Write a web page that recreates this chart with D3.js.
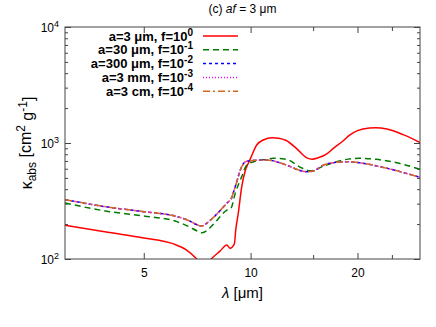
<!DOCTYPE html>
<html>
<head>
<meta charset="utf-8">
<script src="https://cdn.jsdelivr.net/npm/d3@7"></script>
<style>
  body { margin: 0; background: #fff; }
  text { font-family: "Liberation Sans", Arial, sans-serif; fill: #000; }
</style>
</head>
<body>
<svg width="436" height="327"></svg>
<script>
// wavelengths (um) and opacities
const wlRed = [3.0, 4.0, 5.0, 6.06, 6.59, 7.05, 7.3, 7.55, 7.75, 8.2, 8.57, 8.75, 9.0, 9.08, 9.23, 9.44, 9.67, 9.9, 10.0, 10.4, 10.85, 11.5, 12.0, 12.6, 13.5, 14.4, 14.9, 15.5, 16.35, 17.1, 18.2, 19.0, 20.0, 21.6, 22.5, 24.2, 26.9, 30.0];
const kRed  = [195, 169, 152, 135, 120, 100, 88, 90, 100, 117, 132, 124, 135, 178, 248, 420, 585, 690, 740, 961, 1061, 1110, 1100, 1050, 890, 745, 725, 745, 800, 900, 1040, 1170, 1280, 1350, 1356, 1320, 1180, 1010];

const wlGreen = [3.0, 4.0, 5.0, 6.2, 6.7, 7.05, 7.3, 7.6, 7.9, 8.57, 8.8, 9.05, 9.44, 9.75, 10.2, 11.1, 11.6, 12.6, 14.0, 14.7, 16.35, 18.2, 20.2, 22.6, 26.2, 30.0];
const kGreen  = [304, 256, 235, 210, 190, 175, 168, 180, 203, 264, 274, 368, 513, 646, 690, 723, 738, 723, 605, 577, 646, 713, 738, 723, 668, 593];

const wlSmall = [3.0, 4.0, 5.0, 6.2, 6.7, 7.05, 7.25, 7.55, 7.9, 8.66, 8.8, 9.05, 9.44, 9.67, 10.0, 11.1, 12.1, 12.6, 14.4, 14.9, 16.35, 18.7, 20.2, 24.2, 30.0];
const kBlue    = [325, 279, 256, 232, 214, 198, 192, 205, 232, 312, 327, 420, 625, 690, 703, 713, 676, 646, 566, 570, 659, 690, 676, 605, 506];
const kMagenta = [325, 279, 256, 232, 214, 198, 192, 205, 232, 312, 327, 420, 625, 690, 703, 713, 676, 646, 566, 570, 659, 690, 676, 605, 506];
const kBrown   = [325, 279, 256, 232, 214, 198, 192, 205, 232, 312, 327, 420, 625, 690, 703, 713, 676, 646, 566, 570, 659, 690, 676, 605, 506];

const legendA = ['a=3 \u03bcm, f=10', 'a=30 \u03bcm, f=10', 'a=300 \u03bcm, f=10', 'a=3 mm, f=10', 'a=3 cm, f=10'];
const legendExp = ['0', '-1', '-2', '-3', '-4'];

const xTicks = [5, 10, 20];
const xMinor = [15, 25];
const yTicks = [100, 1000, 10000];
const yMinor = [200, 300, 400, 500, 600, 700, 800, 900, 2000, 3000, 4000, 5000, 6000, 7000, 8000, 9000];

const svg = d3.select('svg');
const width = +svg.attr('width');
const height = +svg.attr('height');
const margin = { top: 27, right: 16, bottom: 68, left: 65 };
const innerWidth = width - margin.left - margin.right;
const innerHeight = height - margin.top - margin.bottom;

const xScale = d3.scaleLog().domain([3, 30]).range([0, innerWidth]);
const yScale = d3.scaleLog().domain([100, 10000]).range([innerHeight, 0]);

const g = svg.append('g').attr('transform', `translate(${margin.left}, ${margin.top})`);

svg.append('defs').append('clipPath').attr('id', 'clip')
    .append('rect').attr('width', innerWidth).attr('height', innerHeight);

// axes: ticks point inward, mirrored on top/right
const axisColor = '#444';
const styleAxis = (sel) => {
    sel.select('.domain').remove();
    sel.selectAll('.tick line').attr('stroke', axisColor);
    sel.selectAll('.tick text').style('font-size', '12px').style('font-family', '"Liberation Sans", Arial, sans-serif');
};

g.append('g').attr('transform', `translate(0, ${innerHeight})`)
    .call(d3.axisBottom(xScale).tickValues(xTicks).tickSize(-6).tickPadding(9).tickFormat(d3.format('d')))
    .call(styleAxis);
g.append('g').attr('transform', `translate(0, ${innerHeight})`)
    .call(d3.axisBottom(xScale).tickValues(xMinor).tickSize(-4).tickFormat(''))
    .call(styleAxis);
g.append('g')
    .call(d3.axisTop(xScale).tickValues(xTicks).tickSize(-6).tickFormat(''))
    .call(styleAxis);
g.append('g')
    .call(d3.axisTop(xScale).tickValues(xMinor).tickSize(-4).tickFormat(''))
    .call(styleAxis);

const yAxisG = g.append('g')
    .call(d3.axisLeft(yScale).tickValues(yTicks).tickSize(-6).tickPadding(6).tickFormat(() => ''))
    .call(styleAxis);
yAxisG.selectAll('.tick text').each(function (d) {
    const t = d3.select(this);
    t.attr('dy', '0.35em');
    t.append('tspan').text('10');
    t.append('tspan').attr('dy', '-0.5em').style('font-size', '9px').text(Math.round(Math.log10(d)));
});
g.append('g')
    .call(d3.axisLeft(yScale).tickValues(yMinor).tickSize(-3).tickFormat(''))
    .call(styleAxis);
g.append('g').attr('transform', `translate(${innerWidth}, 0)`)
    .call(d3.axisRight(yScale).tickValues(yTicks).tickSize(-6).tickFormat(''))
    .call(styleAxis);
g.append('g').attr('transform', `translate(${innerWidth}, 0)`)
    .call(d3.axisRight(yScale).tickValues(yMinor).tickSize(-3).tickFormat(''))
    .call(styleAxis);

// series
const series = [
    { wl: wlRed, k: kRed, color: '#ff0000', dash: null },
    { wl: wlGreen, k: kGreen, color: '#007a00', dash: '6,4' },
    { wl: wlSmall, k: kBlue, color: '#0000ff', dash: '3,3' },
    { wl: wlSmall, k: kMagenta, color: '#ff00ff', dash: '1,2' },
    { wl: wlSmall, k: kBrown, color: '#d2691e', dash: '7,3,2,3' }
];

const line = d3.line()
    .x((d) => xScale(d[0]))
    .y((d) => yScale(d[1]))
    .curve(d3.curveMonotoneX);

const plot = g.append('g').attr('clip-path', 'url(#clip)');
series.forEach((s) => {
    plot.append('path')
        .datum(s.wl.map((w, i) => [w, s.k[i]]))
        .attr('fill', 'none')
        .attr('stroke', s.color)
        .attr('stroke-width', 1.5)
        .attr('stroke-dasharray', s.dash)
        .attr('d', line);
});

// frame
g.append('rect')
    .attr('width', innerWidth).attr('height', innerHeight)
    .attr('fill', 'none').attr('stroke', axisColor).attr('stroke-width', 1);

// legend
const legend = g.append('g');
series.forEach((s, i) => {
    const y = 9 + i * 13.8;
    const t = legend.append('text')
        .attr('x', 128).attr('y', y).attr('dy', '0.35em')
        .attr('text-anchor', 'end')
        .style('font-size', '13px').style('font-weight', 'bold');
    t.append('tspan').text(legendA[i]);
    t.append('tspan').attr('dy', '-0.5em').style('font-size', '10px').text(legendExp[i]);
    legend.append('line')
        .attr('x1', 138).attr('x2', 173).attr('y1', y).attr('y2', y)
        .attr('stroke', s.color).attr('stroke-width', 1.5)
        .attr('stroke-dasharray', s.dash);
});

// title
const title = svg.append('text')
    .attr('x', margin.left + innerWidth / 2).attr('y', 13)
    .attr('text-anchor', 'middle').style('font-size', '12px');
title.append('tspan').text('(c) ');
title.append('tspan').style('font-style', 'italic').text('af');
title.append('tspan').text(' = 3 \u03bcm');

// x label
const xLabel = svg.append('text')
    .attr('x', margin.left + innerWidth / 2).attr('y', 298)
    .attr('text-anchor', 'middle').style('font-size', '15px');
xLabel.append('tspan').style('font-style', 'italic').text('\u03bb');
xLabel.append('tspan').text(' [\u03bcm]');

// y label
const yLabel = svg.append('text')
    .attr('transform', `translate(32, ${margin.top + innerHeight / 2}) rotate(-90)`)
    .attr('text-anchor', 'middle').style('font-size', '16px');
yLabel.append('tspan').text('\u03ba');
yLabel.append('tspan').attr('dy', '0.3em').style('font-size', '12px').text('abs');
yLabel.append('tspan').attr('dy', '-0.3em').text(' [cm');
yLabel.append('tspan').attr('dy', '-0.45em').style('font-size', '12px').text('2');
yLabel.append('tspan').attr('dy', '0.45em').text(' g');
yLabel.append('tspan').attr('dy', '-0.45em').style('font-size', '12px').text('-1');
yLabel.append('tspan').attr('dy', '0.45em').text(']');
</script>
</body>
</html>
